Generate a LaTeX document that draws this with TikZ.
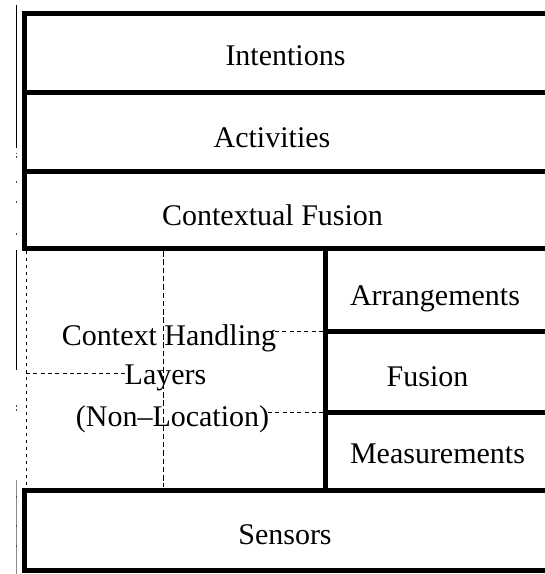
\documentclass[tikz,border=0pt]{standalone}
\usepackage{fontspec}
\setmainfont{Liberation Serif}
\newfontfamily\layerfont{Liberation Serif}
\begin{document}
\begin{tikzpicture}[x=1pt,y=-1pt,
  layerbox/.style={draw, rectangle, line width=5pt, inner sep=0pt, outer sep=0pt},
  lbl/.style={font=\layerfont\fontsize{30}{36}\selectfont, inner sep=0pt, anchor=base},
  dotline/.style={line width=1pt, dash pattern=on 3pt off 4pt},
  vdash/.style={line width=1pt, dash pattern=on 5.5pt off 2.8pt},
  hdash/.style={line width=1pt, dash pattern=on 4pt off 3.3pt},
  scanmark/.style={line width=1pt},
  scangray/.style={line width=0.8pt, black!45}]
\useasboundingbox (0,0) rectangle (545,574);
\fill[white] (0,0) rectangle (545,574);
% layer boxes (line centres, pixel coordinates)
\node[layerbox, minimum width=523.5pt, minimum height=79pt] (int) at (286.25,52.5) {};
\node[layerbox, minimum width=523.5pt, minimum height=79pt] (act) at (286.25,131.5) {};
\node[layerbox, minimum width=523.5pt, minimum height=77pt] (cfu) at (286.25,209.5) {};
\node[layerbox, minimum width=223pt, minimum height=83pt] (arr) at (436.5,289.5) {};
\node[layerbox, minimum width=223pt, minimum height=81pt] (fus) at (436.5,371.5) {};
\node[layerbox, minimum width=223pt, minimum height=78pt] (mea) at (436.5,451) {};
\node[layerbox, minimum width=523.5pt, minimum height=80pt] (sen) at (286.25,530) {};
% labels
\node[lbl] (tint) at (285.5,65) {Intentions};
\node[lbl] (tact) at (272,147) {Activities};
\node[lbl] (tcfu) at (272.5,225) {Contextual Fusion};
\node[lbl] (tarr) at (435,305) {Arrangements};
\node[lbl] (tfus) at (427.5,386) {Fusion};
\node[lbl] (tmea) at (437.5,463) {Measurements};
\node[lbl] (tsen) at (285,544) {Sensors};
\node[lbl] (tch1) at (169,345) {Context Handling};
\node[lbl] (tch2) at (165.5,384.5) {Layers};
\node[lbl] (tch3) at (172.5,426) {(Non\textendash Location)};
% dashed guide lines
\coordinate (va1) at (26,251);
\coordinate (va2) at (26,487);
\coordinate (vb1) at (163,251);
\coordinate (vb2) at (163,487);
\coordinate (ha1) at (26,373);
\coordinate (ha2) at (125,373);
\coordinate (hb1) at (275,331);
\coordinate (hc1) at (268,412);
\draw[dotline] (va1) -- (va2);
\draw[vdash] (vb1) -- (vb2);
\draw[hdash] (ha1) -- (ha2);
\draw[hdash] (hb1) -- (arr.south west);
\draw[hdash] (hc1) -- (fus.south west);
% scan marks at the left edge
\coordinate (s1) at (16.5,5);
\coordinate (s2) at (16.5,148);
\coordinate (s3) at (16.5,250);
\coordinate (s4) at (16.5,370);
\coordinate (s5) at (16.5,480);
\coordinate (s6) at (16.5,574);
\draw[scanmark] (s1) -- (s2);
\draw[scanmark] (s3) -- (s4);
\draw[scangray] (s5) -- (s6);
\foreach \yy in {152.5,156,181,201,233,405,409,496,525,545} {
  \draw[line width=1pt, black!70] (16.5,\yy) -- (16.5,\yy+1.5);
}
\end{tikzpicture}
\end{document}
